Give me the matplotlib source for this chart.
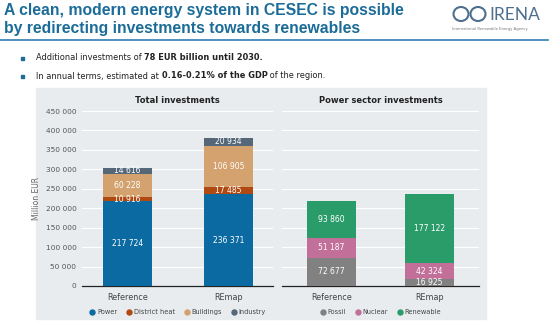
import matplotlib
matplotlib.use("Agg")
import matplotlib.pyplot as plt
from matplotlib.lines import Line2D
from matplotlib.patches import Rectangle, Ellipse

# Total investments by sector (million EUR)
total_cats = ["Reference", "REmap"]
power = [217724, 236371]
district_heat = [10916, 17485]
buildings = [60228, 106905]
industry = [14616, 20934]

# Power sector investments (million EUR)
power_cats = ["Reference", "REmap"]
fossil = [72677, 16925]
nuclear = [51187, 42324]
renewable = [93860, 177122]

y_ticks = [0, 50000, 100000, 150000, 200000, 250000, 300000, 350000, 400000, 450000]

total_series = [("Power", power, "#0b6aa2"), ("District heat", district_heat, "#b04a12"),
                ("Buildings", buildings, "#d3a26e"), ("Industry", industry, "#55687a")]
power_series = [("Fossil", fossil, "#818181"), ("Nuclear", nuclear, "#c27099"),
                ("Renewable", renewable, "#2a9c6a")]

W, H = 555, 321
fig = plt.figure(figsize=(W / 100, H / 100), dpi=100)
fig.patch.set_facecolor("white")


def px(x, y, w, h):
    # pixel box (top-left origin) -> figure fraction
    return [x / W, 1 - (y + h) / H, w / W, h / H]


def fmt(v):
    return f"{v:,}".replace(",", " ")


# header
title_col = "#1b6c98"
fig.text(4 / W, 1 - 10 / H, "A clean, modern energy system in CESEC is possible",
         fontsize=11.3, fontweight="bold", color=title_col, va="center", ha="left",
         family="Liberation Sans")
fig.text(4 / W, 1 - 28 / H, "by redirecting investments towards renewables",
         fontsize=11.3, fontweight="bold", color=title_col, va="center", ha="left",
         family="Liberation Sans")
fig.add_artist(Line2D([0, 548 / W], [1 - 40 / H, 1 - 40 / H], color="#2d7fb0", lw=1.2))

# logo
logo_col = "#4f6f8f"
for cx in (461, 478):
    fig.add_artist(Ellipse((cx / W, 1 - 14 / H), 15 / W, 14 / H, transform=fig.transFigure,
                           facecolor="none", edgecolor=logo_col, lw=1.5))
fig.text(489 / W, 1 - 14.5 / H, "IRENA", fontsize=12.5, color=logo_col, va="center",
         ha="left", family="Lato")
fig.text(452 / W, 1 - 29 / H, "International Renewable Energy Agency", fontsize=2.7,
         color="#777777", va="center", ha="left")

# bullets with bold fragments
renderer = fig.canvas.get_renderer()
bullets = [
    [("Additional investments of ", "normal"), ("78 EUR billion until 2030.", "bold")],
    [("In annual terms, estimated at ", "normal"), ("0.16-0.21% of the GDP", "bold"),
     (" of the region.", "normal")],
]
for row, y in zip(bullets, (58, 76)):
    fig.add_artist(Rectangle((20.5 / W, 1 - (y + 1.5) / H), 3 / W, 3 / H,
                             transform=fig.transFigure, color="#1b6c98"))
    x = 36
    for txt, wt in row:
        t = fig.text(x / W, 1 - y / H, txt, fontsize=5.95, fontweight=wt, color="#222222",
                     va="center", ha="left")
        x += t.get_window_extent(renderer).width

# chart background
fig.add_artist(Rectangle((36 / W, 1 - 319 / H), 450 / W, 231 / H,
                         transform=fig.transFigure, color="#e9ecef", zorder=0))

label_kw = dict(ha="center", va="center", fontsize=5.5, color="white")


def stacked(ax, cats, series, width, colspace):
    x = range(len(cats))
    bottom = [0] * len(cats)
    for name, vals, col in series:
        ax.bar(x, vals, width, bottom=bottom, color=col, zorder=3)
        for i, v in enumerate(vals):
            ax.text(i, bottom[i] + v / 2, fmt(v), zorder=4, **label_kw)
        bottom = [b + v for b, v in zip(bottom, vals)]
    ax.set_ylim(0, 450000)
    ax.set_yticks(y_ticks)
    ax.yaxis.grid(True, color="white", lw=0.8, zorder=0)
    ax.set_axisbelow(True)
    ax.set_facecolor("none")
    for s in ("top", "right", "left"):
        ax.spines[s].set_visible(False)
    ax.spines["bottom"].set_color("#222222")
    ax.spines["bottom"].set_linewidth(0.9)
    ax.set_xticks(list(x))
    ax.set_xticklabels(cats, fontsize=5.8, color="#444444")
    ax.tick_params(axis="x", length=0, pad=5)
    ax.tick_params(axis="y", length=0, labelsize=5.3, labelcolor="#555555", pad=4)
    handles = [Line2D([], [], marker="o", ls="", markersize=3.6, color=c) for _, _, c in series]
    ax.legend(handles, [n for n, _, _ in series], loc="center", bbox_to_anchor=(0.5, -0.15),
              ncol=len(series), frameon=False, fontsize=4.8, handletextpad=0.2,
              handlelength=1.0, columnspacing=colspace, labelcolor="#444444")


ax1 = fig.add_axes(px(82, 111, 191, 175))
stacked(ax1, total_cats, total_series, 0.485, 1.3)
ax1.set_xlim(-0.45, 1.44)
ax1.set_yticklabels([fmt(v) for v in y_ticks])
ax1.set_ylabel("Million EUR", fontsize=5.5, color="#666666", labelpad=3)
ax1.set_title("Total investments", fontsize=6, fontweight="bold", color="#222222", pad=6)

ax2 = fig.add_axes(px(282, 111, 197, 175))
stacked(ax2, power_cats, power_series, 0.5, 1.3)
ax2.set_xlim(-0.5, 1.5)
ax2.set_yticklabels([])
ax2.set_title("Power sector investments", fontsize=6, fontweight="bold", color="#222222", pad=6)

fig.savefig("out.png", dpi=100)
